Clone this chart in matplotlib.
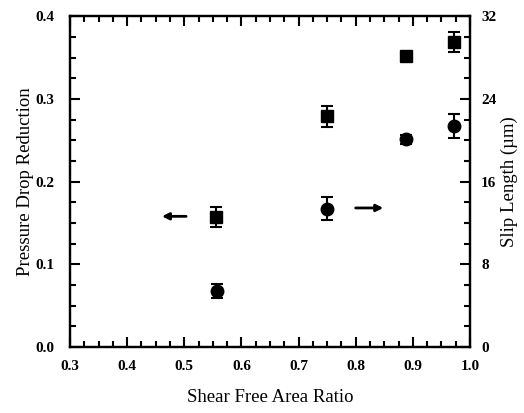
import matplotlib
matplotlib.use("Agg")
import matplotlib.pyplot as plt
from matplotlib.ticker import MultipleLocator

x_sq = [0.556, 0.75, 0.888, 0.972]
pdr = [0.157, 0.279, 0.352, 0.369]
pdr_err = [0.012, 0.013, 0.005, 0.012]

x_ci = [0.557, 0.75, 0.888, 0.972]
slip = [5.43, 13.38, 20.08, 21.37]
slip_err = [0.7, 1.1, 0.4, 1.15]

x_ticks = [0.3, 0.4, 0.5, 0.6, 0.7, 0.8, 0.9, 1.0]
left_ticks = [0.0, 0.1, 0.2, 0.3, 0.4]
right_ticks = [0, 8, 16, 24, 32]

plt.rcParams['font.family'] = ['Liberation Serif', 'DejaVu Serif']

fig = plt.figure(figsize=(5.24, 4.13), dpi=100)
ax = fig.add_axes([0.1336, 0.1598, 0.7634, 0.801])
ax2 = ax.twinx()

ax.errorbar(x_sq, pdr, yerr=pdr_err, fmt='s', color='black', markersize=8.5,
            capsize=4.5, elinewidth=1.5, capthick=1.5)
ax2.errorbar(x_ci, slip, yerr=slip_err, fmt='o', color='black', markersize=9,
             capsize=4.5, elinewidth=1.5, capthick=1.5)

ax.annotate('', xy=(0.456, 0.158), xytext=(0.508, 0.158),
            arrowprops=dict(arrowstyle='-|>', color='black', lw=2, mutation_scale=10))
ax2.annotate('', xy=(0.853, 13.45), xytext=(0.795, 13.45),
             arrowprops=dict(arrowstyle='-|>', color='black', lw=2, mutation_scale=10))

ax.set_xlim(0.3, 1.0)
ax.set_ylim(0, 0.4)
ax2.set_ylim(0, 32)
ax.set_xticks(x_ticks)
ax.set_xticklabels([f"{v:.1f}" for v in x_ticks])
ax.set_yticks(left_ticks)
ax.set_yticklabels([f"{v:.1f}" for v in left_ticks])
ax2.set_yticks(right_ticks)
ax2.set_yticklabels([str(v) for v in right_ticks])
ax.xaxis.set_minor_locator(MultipleLocator(0.025))
ax.yaxis.set_minor_locator(MultipleLocator(0.025))
ax2.yaxis.set_minor_locator(MultipleLocator(2))

for a in (ax, ax2):
    for s in a.spines.values():
        s.set_linewidth(1.6)
ax.tick_params(which='both', direction='in', width=1.5, labelsize=11)
ax.tick_params(which='major', length=7)
ax.tick_params(which='minor', length=4)
ax.tick_params(axis='x', which='both', top=True, pad=9)
ax.tick_params(axis='y', which='both', pad=11)
ax2.tick_params(which='both', direction='in', width=1.5, labelsize=11)
ax2.tick_params(which='major', length=7, pad=8)
ax2.tick_params(which='minor', length=4)

for lbl in ax.get_xticklabels() + ax.get_yticklabels() + ax2.get_yticklabels():
    lbl.set_fontweight('bold')

ax.set_xlabel('Shear Free Area Ratio', fontsize=13.5, labelpad=12)
ax.set_ylabel('Pressure Drop Reduction', fontsize=13.5, labelpad=1)
ax2.set_ylabel('Slip Length (µm)', fontsize=13.5, labelpad=3)

fig.savefig('out.png', dpi=100)
